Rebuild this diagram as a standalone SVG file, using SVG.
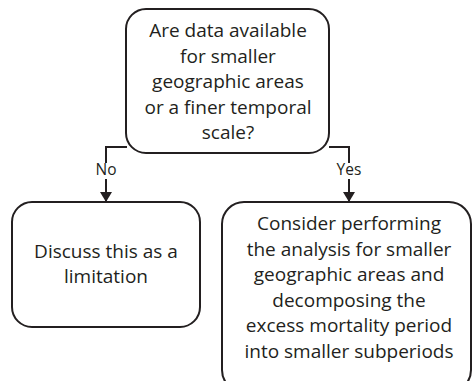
<svg xmlns="http://www.w3.org/2000/svg" width="472" height="381" viewBox="0 0 472 381">
  <style>
    .box { fill: #ffffff; stroke: #231f20; stroke-width: 2; }
    .txt { font-family: "Open Sans", "Liberation Sans", Arial, sans-serif; font-size: 19px; fill: #231f20; text-anchor: middle; }
    .lbl { font-family: "Open Sans", "Liberation Sans", Arial, sans-serif; font-size: 15.5px; fill: #231f20; text-anchor: middle; }
    .wire { fill: none; stroke: #231f20; stroke-width: 2; }
  </style>
  <defs>
    <marker id="arrow" viewBox="0 0 10 12" refX="10" refY="6" markerWidth="10" markerHeight="12" markerUnits="userSpaceOnUse" orient="auto">
      <path d="M0,0 L10,6 L0,12 Z" fill="#231f20"/>
    </marker>
  </defs>

  <rect width="472" height="381" fill="#ffffff"/>

  <g id="connectors">
    <path class="wire" d="M127,147 H106 V163"/>
    <path class="wire" d="M106,179 V202" marker-end="url(#arrow)"/>
    <path class="wire" d="M329,147 H349 V163"/>
    <path class="wire" d="M349,179 V202" marker-end="url(#arrow)"/>
    <text class="lbl" x="106" y="175">No</text>
    <text class="lbl" x="349" y="175">Yes</text>
  </g>

  <g id="question">
    <rect class="box" x="126" y="9" width="203" height="144" rx="20" ry="20"/>
    <text class="txt" x="228" y="37">Are data available</text>
    <text class="txt" x="228" y="63">for smaller</text>
    <text class="txt" x="228" y="88">geographic areas</text>
    <text class="txt" x="228" y="114">or a finer temporal</text>
    <text class="txt" x="228" y="139">scale?</text>
  </g>

  <g id="limitation">
    <rect class="box" x="12" y="202" width="188" height="125" rx="20" ry="20"/>
    <text class="txt" x="106" y="258">Discuss this as a</text>
    <text class="txt" x="106" y="283">limitation</text>
  </g>

  <g id="subdivide">
    <rect class="box" x="222" y="202" width="249" height="190" rx="22" ry="22"/>
    <text class="txt" x="349" y="230">Consider performing</text>
    <text class="txt" x="349" y="256">the analysis for smaller</text>
    <text class="txt" x="349" y="281">geographic areas and</text>
    <text class="txt" x="349" y="307">decomposing the</text>
    <text class="txt" x="349" y="332">excess mortality period</text>
    <text class="txt" x="349" y="358">into smaller subperiods</text>
  </g>
</svg>
